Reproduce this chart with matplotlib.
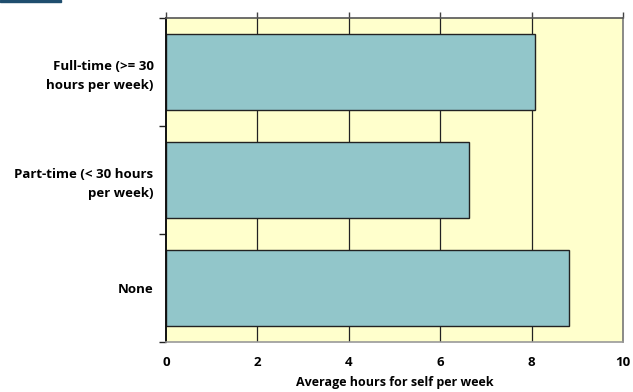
import matplotlib
matplotlib.use("Agg")
import matplotlib.pyplot as plt
from matplotlib.patches import Rectangle

# Average weekly hours spent on oneself, by employment status
categories = ["None", "Part-time (< 30 hours\nper week)", "Full-time (>= 30\nhours per week)"]
hours = [8.82, 6.64, 8.07]
x_ticks = [0, 2, 4, 6, 8, 10]
x_label = "Average hours for self per week"

plt.rcParams["font.family"] = ["Open Sans", "DejaVu Sans"]

fig = plt.figure(figsize=(6.33, 3.92), dpi=100)
fig.patch.set_facecolor("white")

# thin header strip in the top-left corner
fig.patches.append(Rectangle((0, 1 - 2 / 392), 61 / 633, 2 / 392,
                             transform=fig.transFigure, color="#1F4E6E", zorder=5))

ax = fig.add_axes([166 / 633, 1 - 342 / 392, 457 / 633, 324 / 392])
ax.set_facecolor("#FFFFCC")

ypos = list(range(len(categories)))
ax.barh(ypos, hours, height=0.70, color="#92C6CA", edgecolor="#222222",
        linewidth=1.0, zorder=3)

ax.set_xlim(0, 10)
ax.set_ylim(-0.5, len(categories) - 0.5)

# vertical gridlines behind the bars
for v in x_ticks[1:-1]:
    ax.axvline(v, color="#222222", linewidth=0.9, zorder=1)

# x ticks point outward from the top edge, labels sit below the plot
ax.set_xticks(x_ticks)
ax.set_xticklabels([str(t) for t in x_ticks], fontsize=9.5, fontweight="bold")
ax.tick_params(axis="x", which="major", top=True, bottom=False,
               labeltop=False, labelbottom=True, direction="out",
               length=4, width=1.0, color="#444444", pad=6)

# y ticks at the category boundaries, labels at the category centers
ax.set_yticks([y - 0.5 for y in range(len(categories) + 1)])
ax.set_yticklabels([])
ax.set_yticks(ypos, minor=True)
ax.set_yticklabels(categories, minor=True, fontsize=9.5, fontweight="bold",
                   multialignment="right", linespacing=1.6)
ax.tick_params(axis="y", which="major", left=True, direction="out",
               length=5, width=1.0, color="#222222")
ax.tick_params(axis="y", which="minor", length=0, pad=9)

ax.set_xlabel(x_label, fontsize=9, fontweight="bold", labelpad=5)

ax.spines["left"].set_color("#111111")
ax.spines["left"].set_linewidth(1.4)
ax.spines["top"].set_color("#555555")
ax.spines["top"].set_linewidth(1.2)
ax.spines["right"].set_color("#777777")
ax.spines["right"].set_linewidth(1.2)
ax.spines["bottom"].set_color("#999999")
ax.spines["bottom"].set_linewidth(1.2)
for s in ax.spines.values():
    s.set_zorder(4)

fig.savefig("out.png", dpi=100)
